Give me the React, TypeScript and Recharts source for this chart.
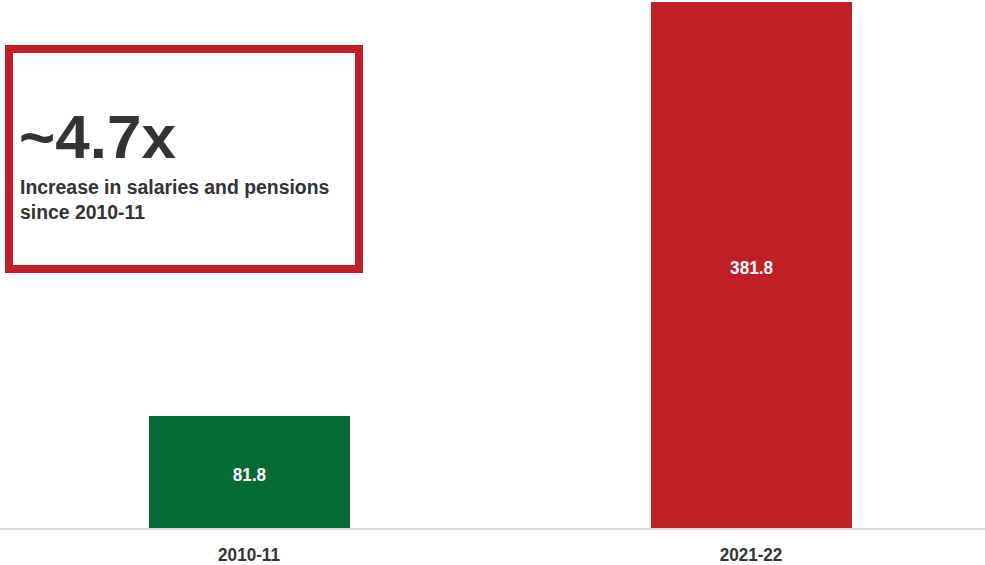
import React from "react";
import { Bar, BarChart, Cell, LabelList, XAxis, YAxis } from "recharts";

const years = ["2010-11", "2021-22"];
const amounts = [81.8, 381.8];
const barColors = ["#066a37", "#c01f27"];

const calloutValue = "~4.7x";
const calloutLines = ["Increase in salaries and pensions", "since 2010-11"];

const chartData = years.map((year, i) => ({ year, amount: amounts[i] }));

const FONT = "'Liberation Sans', Arial, sans-serif";

// the source font is a little narrower than Liberation Sans, so squeeze it
const YearTick = (props: any) => {
  const { x, payload } = props;
  return (
    <text
      transform={`translate(${x},561) scale(0.9,1)`}
      textAnchor="middle"
      fill="#333"
      fontFamily={FONT}
      fontWeight="bold"
      fontSize={19}
    >
      {payload.value}
    </text>
  );
};

const ValueLabel = (props: any) => {
  const { x, y, width, height, value } = props;
  const cx = Number(x) + Number(width) / 2;
  const cy = Number(y) + Number(height) / 2 + 8.5;
  return (
    <text
      transform={`translate(${cx},${cy}) scale(0.9,1)`}
      textAnchor="middle"
      fill="#fff"
      fontFamily={FONT}
      fontWeight="bold"
      fontSize={19}
    >
      {value}
    </text>
  );
};

const Callout = () => (
  <svg
    width={370}
    height={280}
    style={{ position: "absolute", left: 0, top: 0, pointerEvents: "none" }}
  >
    <rect x={9} y={49} width={350} height={220} fill="#fff" stroke="#c01f27" strokeWidth={8} />
    <text x={19} y={158} fill="#333" fontFamily={FONT} fontWeight="bold" fontSize={62}>
      {calloutValue}
    </text>
    {calloutLines.map((line, i) => (
      <text
        key={line}
        x={20}
        y={194 + i * 25}
        fill="#333"
        fontFamily={FONT}
        fontWeight="bold"
        fontSize={19.4}
      >
        {line}
      </text>
    ))}
  </svg>
);

const App = () => {
  return (
    <div
      style={{
        position: "fixed",
        left: 0,
        top: 0,
        width: 985,
        height: 565,
        overflow: "hidden",
        background: "#fff",
        fontFamily: FONT,
      }}
    >
      <div style={{ position: "absolute", left: -2, top: 0 }}>
        <BarChart
          width={1004}
          height={565}
          data={chartData}
          margin={{ top: 2, right: 0, bottom: 0, left: 0 }}
        >
          <XAxis
            dataKey="year"
            height={36}
            axisLine={{ stroke: "#d9d9d9", strokeWidth: 2 }}
            tickLine={false}
            tick={<YearTick />}
          />
          <YAxis hide width={0} domain={[0, 381.8]} allowDataOverflow />
          <Bar dataKey="amount" barSize={201} isAnimationActive={false}>
            {chartData.map((entry, index) => (
              <Cell key={`cell-${index}`} fill={barColors[index]} />
            ))}
            <LabelList dataKey="amount" content={<ValueLabel />} />
          </Bar>
        </BarChart>
      </div>
      <Callout />
    </div>
  );
};

export default App;
